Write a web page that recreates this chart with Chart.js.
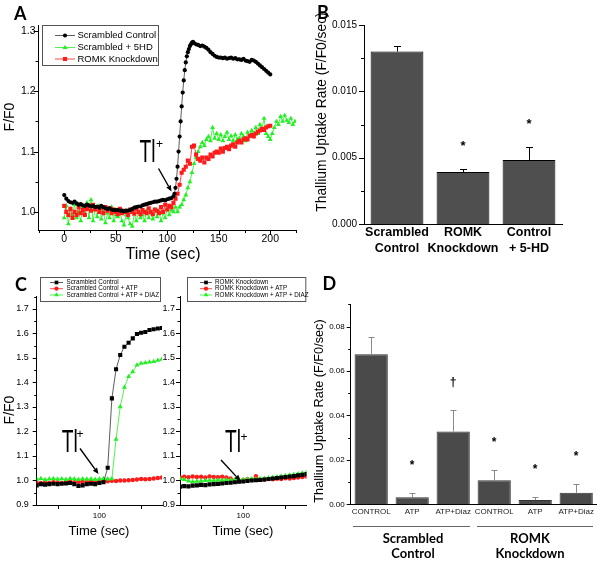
<!DOCTYPE html>
<html>
<head>
<meta charset="utf-8">
<script src="https://cdn.jsdelivr.net/npm/chart.js@4.4.1/dist/chart.umd.min.js"></script>
<style>
  html, body { margin: 0; padding: 0; background: #fff; }
  #wrap { position: relative; width: 600px; height: 562px; overflow: hidden; }
  #wrap canvas { position: absolute; left: 0; top: 0; }
</style>
</head>
<body>
<div id="wrap">
  <canvas id="cA" width="600" height="562"></canvas>
  <canvas id="cB" width="600" height="562"></canvas>
  <canvas id="cC1" width="600" height="562"></canvas>
  <canvas id="cC2" width="600" height="562"></canvas>
  <canvas id="cD" width="600" height="562"></canvas>
</div>
<script>
// ---- panel A: thallium traces (F/F0 vs time) ----
// scrambled control, [time, F/F0]
const aCtrl = [[0,1.028],[2,1.022],[4,1.018],[6,1.016],[8,1.015],[10,1.017],[12,1.014],[14,1.012],[16,1.013],[18,1.011],
  [20,1.010],[22,1.012],[24,1.011],[26,1.009],[28,1.010],[30,1.008],[32,1.009],[34,1.007],[36,1.010],[38,1.008],
  [40,1.006],[42,1.005],[44,1.006],[46,1.004],[48,1.003],[50,1.003],[52,1.003],[54,1.002],[56,1.002],[58,1.001],
  [60,1.002],[62,1.002],[64,1.003],[66,1.005],[68,1.007],[70,1.008],[72,1.009],[74,1.009],[76,1.011],[78,1.012],
  [80,1.013],[82,1.014],[84,1.015],[86,1.016],[88,1.017],[90,1.017],[92,1.018],[94,1.019],[96,1.020],[98,1.019],
  [100,1.021],[102,1.022],[104,1.023],[106,1.026],[107,1.030],[108,1.040],[109,1.055],[110,1.075],[111,1.100],[112,1.125],
  [113,1.150],[114,1.175],[115,1.198],[116,1.218],[117,1.235],[118,1.248],[119,1.258],[120,1.265],[121,1.270],[122,1.275],
  [123,1.278],[124,1.281],[125,1.282],[126,1.280],[128,1.278],[130,1.277],[132,1.275],[134,1.276],[136,1.274],[138,1.272],
  [140,1.269],[142,1.265],[144,1.262],[146,1.259],[148,1.257],[150,1.256],[152,1.256],[154,1.255],[156,1.256],[158,1.254],
  [160,1.255],[162,1.256],[164,1.254],[166,1.255],[168,1.253],[170,1.253],[172,1.252],[174,1.254],[176,1.251],[178,1.250],
  [180,1.249],[182,1.252],[184,1.251],[186,1.249],[188,1.246],[190,1.243],[192,1.240],[194,1.237],[196,1.234],[198,1.231],
  [200,1.228]];
// scrambled + 5HD, every 2 s from 0
const a5hd = [
  0.990,1.010,0.980,1.005,0.995,1.012,0.990,1.000,0.985,1.008,
  0.996,1.015,0.990,1.020,0.985,1.005,0.992,1.010,0.988,1.000,
  0.982,0.998,0.990,1.008,0.985,0.995,0.992,1.003,0.985,0.978,
  0.995,0.990,0.980,0.976,0.998,0.985,1.000,0.990,0.995,0.985,
  1.002,0.990,0.998,0.988,1.004,0.992,1.000,0.985,0.998,0.990,
  1.005,0.995,1.003,1.000,1.008,1.000,1.008,1.012,1.020,1.028,
  1.040,1.050,1.065,1.080,1.090,1.100,1.108,1.115,1.110,1.120,
  1.125,1.118,1.140,1.122,1.130,1.120,1.128,1.118,1.125,1.132,
  1.120,1.126,1.118,1.128,1.120,1.122,1.130,1.125,1.118,1.132,
  1.125,1.135,1.128,1.140,1.130,1.145,1.138,1.155,1.130,1.125,
  1.120,1.130,1.140,1.150,1.145,1.158,1.150,1.160,1.152,1.148,
  1.155,1.145,1.150];
// ROMK knockdown, every 2 s from 0
const aRomk = [
  1.010,1.000,0.995,1.005,0.990,1.000,0.995,1.008,0.998,1.003,
  0.995,1.005,1.010,1.002,1.012,1.004,1.008,1.000,1.006,0.998,
  1.008,1.002,1.006,0.998,1.004,1.000,0.996,1.005,0.998,1.002,
  1.000,0.995,1.004,1.000,0.997,1.005,1.000,0.996,1.003,1.000,
  0.998,1.006,1.000,0.996,1.004,1.002,0.998,1.008,1.000,1.012,
  1.004,1.010,1.008,1.015,1.022,1.030,1.045,1.065,1.070,1.075,
  1.085,1.080,1.108,1.110,1.095,1.088,1.085,1.090,1.082,1.090,
  1.088,1.095,1.092,1.098,1.100,1.098,1.105,1.100,1.106,1.108,
  1.104,1.110,1.112,1.108,1.115,1.118,1.115,1.120,1.122,1.120,
  1.126,1.128,1.125,1.130,1.133,1.135,1.138,1.136,1.140,1.142,
  1.143];
const aStep = 2;
const aXMajor = [0, 50, 100, 150, 200];
const aXMinor = [-25, 25, 75, 125, 175, 225];
const aYMajor = [1.0, 1.1, 1.2, 1.3];
const aYMinor = [1.05, 1.15, 1.25];
const aLegend = ['Scrambled Control', 'Scrambled + 5HD', 'ROMK Knockdown'];

// ---- panel B: uptake rate ----
const bCats = [['Scrambled', 'Control'], ['ROMK', 'Knockdown'], ['Control', '+ 5-HD']];
const bRate = [0.0130, 0.00392, 0.00483];
const bErr = [0.00044, 0.0002, 0.0010];
const bMarks = ['', '*', '*'];
const bYMajor = [0, 0.005, 0.010, 0.015];
const bYMinor = [0.0025, 0.0075, 0.0125];

// ---- panel C: traces every 5 s from 25 s ----
const cStep = 5;
const cScr = [0.980,0.985,0.983,0.985,0.987,0.985,0.987,0.988,0.990,0.985,0.978,0.980,0.985,0.987,0.985,0.990,
  0.993,1.052,1.335,1.454,1.512,1.546,1.562,1.580,1.598,1.603,1.606,1.614,1.617,1.620,1.622];
const cScrAtp = [0.990,0.990,0.992,0.990,0.993,0.992,0.990,0.993,0.995,0.993,0.995,0.994,0.996,0.995,0.997,0.997,
  0.998,0.997,0.999,0.998,1.000,1.000,1.001,1.002,1.004,1.006,1.005,1.006,1.008,1.010,1.012];
const cScrDiaz = [1.005,1.008,1.003,1.006,1.008,1.005,1.007,1.004,1.008,1.006,1.004,1.007,1.005,1.006,1.004,1.006,
  1.008,1.006,1.007,1.168,1.301,1.380,1.424,1.444,1.471,1.478,1.480,1.483,1.485,1.490,1.495];
const cRomk = [0.975,0.977,0.976,0.979,0.980,0.982,0.981,0.984,0.985,0.986,0.988,0.990,0.991,0.993,0.995,0.996,
  0.998,1.000,1.001,1.002,1.004,1.006,1.008,1.010,1.012,1.014,1.016,1.018,1.021,1.023,1.026];
const cRomkAtp = [1.012,1.015,1.013,1.016,1.014,1.015,1.012,1.016,1.014,1.013,1.015,1.012,1.008,1.000,0.998,1.002,
  1.005,1.003,1.018,1.004,1.003,1.006,1.005,1.007,1.006,1.009,1.008,1.010,1.012,1.014,1.016];
const cRomkDiaz = [1.008,1.004,0.998,0.995,0.997,0.998,1.000,1.001,1.000,1.002,1.001,1.003,1.002,1.003,1.004,1.003,
  1.005,1.006,1.007,1.008,1.009,1.011,1.013,1.015,1.017,1.020,1.022,1.025,1.027,1.030,1.033];
const cXMajor = [100];
const cXMinor = [50, 150];
const cYMajor = [0.9, 1.0, 1.1, 1.2, 1.3, 1.4, 1.5, 1.6, 1.7];
const cYMinor = [0.95, 1.05, 1.15, 1.25, 1.35, 1.45, 1.55, 1.65, 1.75];
const cLegendL = ['Scrambled Control', 'Scrambled Control + ATP', 'Scrambled Control + ATP + DIAZ'];
const cLegendR = ['ROMK Knockdown', 'ROMK Knockdown + ATP', 'ROMK Knockdown + ATP + DIAZ'];

// ---- panel D ----
const dCats = ['CONTROL', 'ATP', 'ATP+Diaz', 'CONTROL', 'ATP', 'ATP+Diaz'];
const dGroups = [['Scrambled', 'Control'], ['ROMK', 'Knockdown']];
const dRate = [0.0675, 0.0032, 0.0328, 0.0108, 0.0019, 0.0052];
const dErr = [0.0080, 0.0018, 0.0098, 0.0047, 0.0013, 0.0038];
const dMarks = ['', '*', '\u2020', '*', '*', '*'];
const dYMajor = [0, 0.02, 0.04, 0.06, 0.08];
const dYMinor = [0.01, 0.03, 0.05, 0.07, 0.09];

const BLK = '#000000', RED = '#ff1a1a', GRN = '#22f022';
const W = 600, H = 562, AXH = 42;
const ARIAL = '"Liberation Sans", Arial, sans-serif';

// axis boxes are sized so the chart area lands exactly on area {l,t,r,b};
// the y axis box runs from the canvas edge so its labels never get clipped
function layoutFor(a) {
  return { autoPadding: false, padding: { left: 0, top: a.t, right: W - a.r, bottom: H - a.b - AXH } };
}
function tickSetter(major, minor) {
  return s => {
    s.ticks = major.map(v => ({ value: v, major: true }))
      .concat(minor.map(v => ({ value: v, major: false })))
      .sort((p, q) => p.value - q.value);
  };
}
function linAxis(pos, area, min, max, major, minor, digits, size, pad) {
  return {
    type: 'linear', position: pos, min: min, max: max,
    afterFit: pos === 'left' ? (s => { s.width = area.l; }) : (s => { s.height = AXH; }),
    afterBuildTicks: tickSetter(major, minor),
    grid: { display: false, drawTicks: false },
    border: { display: true, color: '#000', width: 1 },
    ticks: {
      autoSkip: false, maxRotation: 0, padding: pad, color: '#000',
      font: { family: ARIAL, size: size },
      callback: (v, i, ts) => ts[i].major ? Number(v).toFixed(digits) : ''
    }
  };
}
function catAxis(size, weight, lineHeight, color, pad) {
  return {
    afterFit: s => { s.height = AXH; },
    grid: { display: false, drawTicks: false },
    border: { display: true, color: '#000', width: 1 },
    ticks: {
      padding: pad, autoSkip: false, maxRotation: 0, minRotation: 0, color: color,
      font: { family: ARIAL, size: size, weight: weight, lineHeight: lineHeight }
    }
  };
}
function series(vals, t0, dt) {
  return vals.map((v, i) => ({ x: t0 + i * dt, y: v }));
}
function ds(data, color, lineColor, style, r) {
  return {
    data: data, showLine: true, borderColor: lineColor, borderWidth: 0.8, tension: 0,
    pointStyle: style, pointRadius: r, pointBackgroundColor: color, pointBorderWidth: 0, pointHoverRadius: r
  };
}
const base = { responsive: false, animation: false, devicePixelRatio: 1, events: [] };
const noPlug = { legend: { display: false }, tooltip: { enabled: false } };

// drawing helpers
function txt(ctx, s, x, y, font, align, baseLine) {
  ctx.save();
  ctx.fillStyle = '#000'; ctx.font = font;
  ctx.textAlign = align || 'left'; ctx.textBaseline = baseLine || 'alphabetic';
  ctx.fillText(s, x, y);
  ctx.restore();
}
function vtxt(ctx, s, x, y, font) {
  ctx.save();
  ctx.translate(x, y); ctx.rotate(-Math.PI / 2);
  ctx.fillStyle = '#000'; ctx.font = font; ctx.textAlign = 'center'; ctx.textBaseline = 'middle';
  ctx.fillText(s, 0, 0);
  ctx.restore();
}
function tickMarks(chart, lens) {
  const ctx = chart.ctx;
  ctx.save(); ctx.strokeStyle = '#000'; ctx.lineWidth = 1;
  Object.values(chart.scales).forEach(s => {
    if (s.type !== 'linear' || !lens[s.axis]) return;
    s.ticks.forEach(t => {
      const len = t.major ? lens[s.axis][0] : lens[s.axis][1];
      const p = Math.round(s.getPixelForValue(t.value)) + 0.5;
      ctx.beginPath();
      if (s.isHorizontal()) { ctx.moveTo(p, s.top); ctx.lineTo(p, s.top + len); }
      else { ctx.moveTo(s.right - len, p); ctx.lineTo(s.right, p); }
      ctx.stroke();
    });
  });
  ctx.restore();
}
function legendBox(ctx, box, items, font, x0, x1, tx) {
  ctx.save();
  ctx.strokeStyle = '#555'; ctx.lineWidth = 1;
  ctx.strokeRect(Math.round(box.x) + 0.5, Math.round(box.y) + 0.5, box.w, box.h);
  items.forEach(it => {
    ctx.strokeStyle = it.line; ctx.lineWidth = 0.8;
    ctx.beginPath(); ctx.moveTo(x0, it.y); ctx.lineTo(x1, it.y); ctx.stroke();
    ctx.fillStyle = it.color;
    Chart.helpers.drawPoint(ctx, { pointStyle: it.style, radius: it.r, rotation: 0, borderWidth: 0 }, (x0 + x1) / 2, it.y);
    txt(ctx, it.label, tx, it.y, font, 'left', 'middle');
  });
  ctx.restore();
}
function tlLabel(ctx, x, baseY, px, py) {
  ctx.save();
  ctx.translate(x, baseY); ctx.scale(0.62, 1);
  ctx.fillStyle = '#000'; ctx.font = '31px ' + ARIAL; ctx.textBaseline = 'alphabetic';
  ctx.fillText('Tl', 0, 0);
  ctx.restore();
  txt(ctx, '+', px, py, '12px ' + ARIAL, 'center', 'middle');
}
function arrow(ctx, x0, y0, x1, y1) {
  const ang = Math.atan2(y1 - y0, x1 - x0), hl = 6, hw = 2.6;
  const bx = x1 - hl * Math.cos(ang), by = y1 - hl * Math.sin(ang);
  ctx.save();
  ctx.strokeStyle = '#000'; ctx.fillStyle = '#000'; ctx.lineWidth = 1.4;
  ctx.beginPath(); ctx.moveTo(x0, y0); ctx.lineTo(bx, by); ctx.stroke();
  ctx.beginPath();
  ctx.moveTo(x1, y1);
  ctx.lineTo(bx + hw * Math.sin(ang), by - hw * Math.cos(ang));
  ctx.lineTo(bx - hw * Math.sin(ang), by + hw * Math.cos(ang));
  ctx.closePath(); ctx.fill();
  ctx.restore();
}
function errBars(chart, vals, errs, color, cap, marks, off, markFont) {
  const ctx = chart.ctx, y = chart.scales.y, meta = chart.getDatasetMeta(0);
  ctx.save(); ctx.strokeStyle = color; ctx.lineWidth = 1;
  meta.data.forEach((bar, i) => {
    const x = Math.round(bar.x) + 0.5;
    const top = Math.round(y.getPixelForValue(vals[i] + errs[i])) + 0.5;
    ctx.beginPath();
    ctx.moveTo(x, bar.y); ctx.lineTo(x, top);
    ctx.moveTo(x - cap, top); ctx.lineTo(x + cap, top);
    ctx.stroke();
    if (marks[i]) txt(ctx, marks[i], bar.x, top - off, markFont, 'center', 'middle');
  });
  ctx.restore();
}

// ---------- A ----------
const areaA = { l: 38.5, t: 25, r: 296, b: 230 };
new Chart(document.getElementById('cA'), {
  type: 'scatter',
  data: { datasets: [
    ds(aCtrl.map(p => ({ x: p[0], y: p[1] })), BLK, '#333', 'circle', 2.1),
    ds(series(aRomk, 0, aStep), RED, RED, 'rect', 2.9),
    ds(series(a5hd, 0, aStep), GRN, GRN, 'triangle', 2.8)
  ] },
  options: Object.assign({}, base, {
    layout: layoutFor(areaA),
    plugins: noPlug,
    scales: {
      x: linAxis('bottom', areaA, -25, 225, aXMajor, aXMinor, 0, 10.5, 3),
      y: linAxis('left', areaA, 0.97, 1.31, aYMajor, aYMinor, 1, 10.5, 3)
    }
  }),
  plugins: [{ id: 'decoA', afterDraw(chart) {
    const ctx = chart.ctx;
    tickMarks(chart, { x: [5, 3], y: [5, 3] });
    txt(ctx, 'A', 14, 19.5, 'bold 18px Lato, sans-serif');
    vtxt(ctx, 'F/F0', 10, 117, '14px ' + ARIAL);
    txt(ctx, 'Time (sec)', 163, 255, '16px ' + ARIAL, 'center', 'middle');
    legendBox(ctx, { x: 42, y: 25, w: 116, h: 40 }, [
      { label: aLegend[0], color: BLK, line: '#333', style: 'circle', r: 2.1, y: 35.5 },
      { label: aLegend[1], color: GRN, line: GRN, style: 'triangle', r: 2.8, y: 47.5 },
      { label: aLegend[2], color: RED, line: RED, style: 'rect', r: 2.9, y: 59 }
    ], '9.5px ' + ARIAL, 55, 75, 77.5);
    tlLabel(ctx, 139.5, 161.7, 159.5, 144.5);
    arrow(ctx, 158.5, 168.5, 171.5, 191.5);
  } }]
});

// ---------- B ----------
const areaB = { l: 364, t: 25, r: 562, b: 224 };
new Chart(document.getElementById('cB'), {
  type: 'bar',
  data: { labels: bCats, datasets: [{
    data: bRate, backgroundColor: '#4f4f4f', borderColor: '#000', borderWidth: 1,
    categoryPercentage: 1, barPercentage: 0.8
  }] },
  options: Object.assign({}, base, {
    layout: layoutFor(areaB),
    plugins: noPlug,
    scales: {
      x: catAxis(12.5, 'bold', 1.25, '#000', 1),
      y: linAxis('left', areaB, 0, 0.015, bYMajor, bYMinor, 3, 10, 7)
    }
  }),
  plugins: [{ id: 'decoB', afterDraw(chart) {
    const ctx = chart.ctx;
    tickMarks(chart, { y: [5, 3] });
    errBars(chart, bRate, bErr, '#000', 3.5, bMarks, 23, 'bold 13px ' + ARIAL);
    txt(ctx, 'B', 317, 18.5, 'bold 18px Lato, sans-serif');
    vtxt(ctx, 'Thallium Uptake Rate (F/F0/sec)', 322.5, 112, '13.8px ' + ARIAL);
  } }]
});

// ---------- C ----------
function cChart(id, area, sets, legend, lx, tl, ar, xt, showLabel, pad) {
  return new Chart(document.getElementById(id), {
    type: 'scatter',
    data: { datasets: [
      ds(series(sets[0], 25, cStep), BLK, '#333', 'rect', 2.9),
      ds(series(sets[2], 25, cStep), GRN, GRN, 'triangle', 2.9),
      ds(series(sets[1], 25, cStep), RED, RED, 'circle', 2.2)
    ] },
    options: Object.assign({}, base, {
      layout: layoutFor(area),
      plugins: noPlug,
      scales: {
        x: linAxis('bottom', area, 25, 175, cXMajor, cXMinor, 0, 8, 6),
        y: linAxis('left', area, 0.9, 1.75, cYMajor, cYMinor, 1, 9, pad)
      }
    }),
    plugins: [{ id: 'deco' + id, afterDraw(chart) {
      const ctx = chart.ctx;
      tickMarks(chart, { x: [4, 4], y: [4, 2.5] });
      legendBox(ctx, { x: lx[0], y: 277, w: lx[1] - lx[0], h: 24 }, [
        { label: legend[0], color: BLK, line: '#333', style: 'rect', r: 2.6, y: 282.5 },
        { label: legend[1], color: RED, line: RED, style: 'circle', r: 2.1, y: 288.7 },
        { label: legend[2], color: GRN, line: GRN, style: 'triangle', r: 2.7, y: 295 }
      ], '6.3px ' + ARIAL, lx[2], lx[3], lx[4]);
      tlLabel(ctx, tl[0], 451.7, tl[1], tl[2]);
      arrow(ctx, ar[0], ar[1], ar[2], ar[3]);
      txt(ctx, 'Time (sec)', xt, 531.7, '13px ' + ARIAL, 'center', 'middle');
      if (showLabel) {
        txt(ctx, 'C', 15, 290.5, 'bold 18px Lato, sans-serif');
        vtxt(ctx, 'F/F0', 10, 410, '14px ' + ARIAL);
      }
    } }]
  });
}
cChart('cC1', { l: 36.7, t: 296.7, r: 162, b: 505 }, [cScr, cScrAtp, cScrDiaz], cLegendL,
  [40, 160, 50, 63, 66.5], [61.7, 80, 435], [80, 448.5, 98.5, 474], 99, true, 8);
cChart('cC2', { l: 180, t: 296.7, r: 306.5, b: 505 }, [cRomk, cRomkAtp, cRomkDiaz], cLegendR,
  [186.7, 305, 200, 212, 215], [225, 244, 438], [221, 460, 240.5, 481], 243, false, 5);

// ---------- D ----------
const areaD = { l: 350.7, t: 304.3, r: 596.7, b: 504.3 };
new Chart(document.getElementById('cD'), {
  type: 'bar',
  data: { labels: dCats, datasets: [{
    data: dRate, backgroundColor: '#4a4a4a', borderColor: '#333', borderWidth: 1,
    categoryPercentage: 1, barPercentage: 0.81
  }] },
  options: Object.assign({}, base, {
    layout: layoutFor(areaD),
    plugins: noPlug,
    scales: {
      x: catAxis(8, 'normal', 1.2, '#222', 3),
      y: linAxis('left', areaD, 0, 0.09, dYMajor, dYMinor, 2, 8, 6)
    }
  }),
  plugins: [{ id: 'decoD', afterDraw(chart) {
    const ctx = chart.ctx;
    tickMarks(chart, { y: [4, 2.5] });
    errBars(chart, dRate, dErr, '#8a8a8a', 3, dMarks, 28, 'bold 12px ' + ARIAL);
    txt(ctx, 'D', 322.5, 290, 'bold 18px Lato, sans-serif');
    vtxt(ctx, 'Thallium Uptake Rate (F/F0/sec)', 319, 411, '12.7px ' + ARIAL);
    ctx.save(); ctx.strokeStyle = '#666'; ctx.lineWidth = 1;
    ctx.beginPath();
    ctx.moveTo(353, 526.5); ctx.lineTo(470, 526.5);
    ctx.moveTo(477, 526.5); ctx.lineTo(593, 526.5);
    ctx.stroke(); ctx.restore();
    const gx = [413, 530];
    dGroups.forEach((g, i) => {
      txt(ctx, g[0], gx[i], 538.5, 'bold 13px Lato, sans-serif', 'center', 'middle');
      txt(ctx, g[1], gx[i], 554, 'bold 13px Lato, sans-serif', 'center', 'middle');
    });
  } }]
});
</script>
</body>
</html>
